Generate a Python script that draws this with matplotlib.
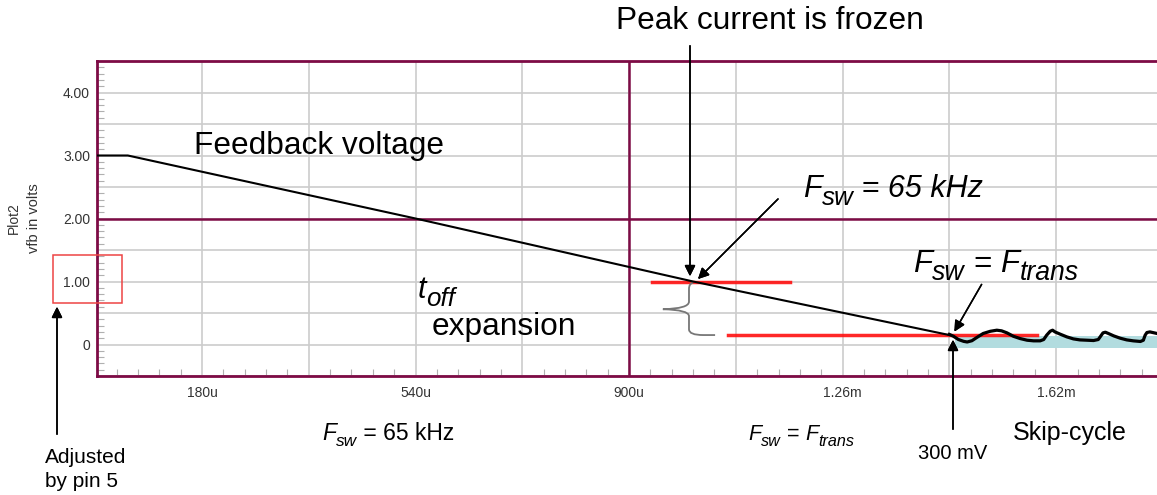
import matplotlib
matplotlib.use('Agg')
import matplotlib.pyplot as plt
from matplotlib.ticker import MultipleLocator, FuncFormatter
from matplotlib.patches import Rectangle, PathPatch
from matplotlib.path import Path

plt.rcParams['font.family'] = ['Liberation Sans', 'DejaVu Sans']

# Feedback voltage ramp (time in us, volts)
ramp_t = [0, 55, 540, 1008, 1440]
ramp_v = [3.0, 3.0, 2.0, 1.0, 0.15]

# Skip-cycle ripple after Ftrans is reached
skip_t = [1440, 1447, 1455, 1464, 1470, 1478, 1486, 1497, 1509, 1520, 1528, 1537,
          1548, 1559, 1571, 1582, 1593, 1599, 1604, 1610, 1614, 1618, 1627, 1638,
          1649, 1660, 1672, 1683, 1691, 1695, 1699, 1703, 1708, 1717, 1728, 1739,
          1750, 1762, 1767, 1770, 1773, 1778, 1790]
skip_v = [0.16, 0.13, 0.08, 0.05, 0.04, 0.06, 0.11, 0.175, 0.21, 0.227, 0.217, 0.185,
          0.13, 0.095, 0.068, 0.058, 0.058, 0.079, 0.148, 0.211, 0.227, 0.2, 0.163, 0.121,
          0.089, 0.073, 0.068, 0.063, 0.079, 0.132, 0.185, 0.195, 0.175, 0.137, 0.1, 0.073,
          0.058, 0.048, 0.068, 0.148, 0.19, 0.2, 0.175]

# levels marked in red
frozen_level = 1.0
frozen_span = [939, 1172]
trans_level = 0.15
trans_span = [1066, 1588]
skip_band = [1449, 1790, -0.06, 0.13]

xticks = [180, 540, 900, 1260, 1620]
xticklabels = ['180u', '540u', '900u', '1.26m', '1.62m']
yticks = [0, 1, 2, 3, 4]
yticklabels = ['0', '1.00', '2.00', '3.00', '4.00']

W, H = 1157, 495
maroon = '#7d0b45'

fig = plt.figure(figsize=(W / 100, H / 100), dpi=100)
ax = fig.add_axes([97 / W, 119 / H, 1060 / W, 315 / H])
ax.set_xlim(3, 1790)
ax.set_ylim(-0.5, 4.5)


def px(x, y):
    return (x / W, 1 - y / H)


def ylab(v, pos):
    r = int(round(v))
    if abs(v - r) < 1e-6 and r in yticks:
        return yticklabels[yticks.index(r)]
    return ''


def xlab(v, pos):
    r = int(round(v))
    return xticklabels[xticks.index(r)] if r in xticks else ''


# grid: gray every 0.5 V / 180 us, labels only on some
ax.yaxis.set_major_locator(MultipleLocator(0.5))
ax.yaxis.set_minor_locator(MultipleLocator(0.1))
ax.xaxis.set_major_locator(MultipleLocator(180))
ax.xaxis.set_minor_locator(MultipleLocator(36))
ax.yaxis.set_major_formatter(FuncFormatter(ylab))
ax.xaxis.set_major_formatter(FuncFormatter(xlab))
ax.grid(True, which='major', color='#cccccc', lw=1.2)
ax.set_axisbelow(True)
ax.tick_params(which='major', length=0, labelsize=10, labelcolor='#333333')
ax.tick_params(axis='y', which='major', pad=5)
ax.tick_params(axis='x', which='major', pad=7)
ax.tick_params(which='minor', direction='in', length=5, color='#b0b0b0', width=0.8)

for s in ['left', 'bottom', 'top']:
    ax.spines[s].set_color(maroon)
    ax.spines[s].set_linewidth(2)
ax.spines['right'].set_visible(False)
ax.axhline(2.0, color=maroon, lw=1.8, zorder=1)
ax.axvline(900, color=maroon, lw=1.8, zorder=1)

ax.fill_between(skip_band[:2], skip_band[2], skip_band[3], color='#b2dcdf', lw=0, zorder=2)
ax.plot(ramp_t, ramp_v, color='black', lw=1.5, zorder=4)
ax.plot(skip_t, skip_v, color='black', lw=2.3, zorder=4)

ax.plot(frozen_span, [frozen_level] * 2, color='#ff1010', lw=2.5, zorder=3, alpha=0.9)
ax.plot(trans_span, [trans_level] * 2, color='#ff1010', lw=2.5, zorder=3, alpha=0.9)

# brace under the frozen point
brace = Path([(1008, 0.98), (1001, 0.97), (1001, 0.88), (1001, 0.68),
              (1001, 0.57), (957, 0.56), (1001, 0.55), (1001, 0.45),
              (1001, 0.24), (1001, 0.15), (1025, 0.15), (1045, 0.15)],
             [Path.MOVETO, Path.CURVE3, Path.CURVE3, Path.LINETO,
              Path.CURVE3, Path.CURVE3, Path.CURVE3, Path.CURVE3,
              Path.LINETO, Path.CURVE3, Path.CURVE3, Path.LINETO])
ax.add_patch(PathPatch(brace, fill=False, edgecolor='#777777', lw=1.3, zorder=3))

# red box around the 1.00 label
ax.add_patch(Rectangle((-71, 0.655), 116, 0.765, fill=False, edgecolor='#ee4444',
                       lw=1.1, clip_on=False, zorder=5))

fig.text(*px(14, 218), 'Plot2', rotation=90, ha='center', va='center',
         fontsize=10, color='#333333')
fig.text(*px(34, 218), 'vfb in volts', rotation=90, ha='center', va='center',
         fontsize=10.5, color='#333333')

arrow = dict(arrowstyle='-|>', color='black', lw=1.1, mutation_scale=16)
for tail, tip in [((690, 43), (690, 279)), ((780, 197), (696, 281)),
                  ((983, 282), (953, 334)), ((953, 432), (953, 337)),
                  ((57, 437), (57, 304))]:
    fig.add_artist(plt.annotate('', xy=px(*tip), xytext=px(*tail), xycoords='figure fraction',
                                textcoords='figure fraction', arrowprops=arrow))

renderer = fig.canvas.get_renderer()


def rich(x, y, parts, size, sub=0.85):
    # parts: (text, is_subscript, italic); laid out left to right on a baseline
    cx = x
    for s, is_sub, ital in parts:
        fs = size * sub if is_sub else size
        dy = size * 0.27 * 100 / 72 if is_sub else 0
        t = fig.text(*px(cx, y + dy), s, fontsize=fs, va='baseline', ha='left',
                     style='italic' if ital else 'normal')
        cx += t.get_window_extent(renderer).width


big = 22.8
fig.text(*px(770, 29), 'Peak current is frozen', ha='center', va='baseline', fontsize=big)
fig.text(*px(194, 154), 'Feedback voltage', ha='left', va='baseline', fontsize=big)
rich(803, 197, [('F', 0, 1), ('sw', 1, 1), (' = 65 kHz', 0, 1)], 22)
rich(418, 298, [('t', 0, 1), ('off', 1, 1)], 22)
fig.text(*px(432, 335), 'expansion', ha='left', va='baseline', fontsize=big)
rich(913, 272, [('F', 0, 1), ('sw', 1, 1), (' = ', 0, 1), ('F', 0, 1), ('trans', 1, 1)], 22.5)

rich(322, 440, [('F', 0, 1), ('sw', 1, 1), (' = 65 kHz', 0, 0)], 16.5, sub=0.75)
rich(748, 440, [('F', 0, 1), ('sw', 1, 1), (' = ', 0, 0), ('F', 0, 1), ('trans', 1, 1)],
     15.5, sub=0.75)
fig.text(*px(1013, 440), 'Skip-cycle', ha='left', va='baseline', fontsize=18)
fig.text(*px(918, 459), '300 mV', ha='left', va='baseline', fontsize=14.5)
fig.text(*px(45, 463), 'Adjusted', ha='left', va='baseline', fontsize=15)
fig.text(*px(45, 487), 'by pin 5', ha='left', va='baseline', fontsize=15)

fig.savefig('out.png', dpi=100)
